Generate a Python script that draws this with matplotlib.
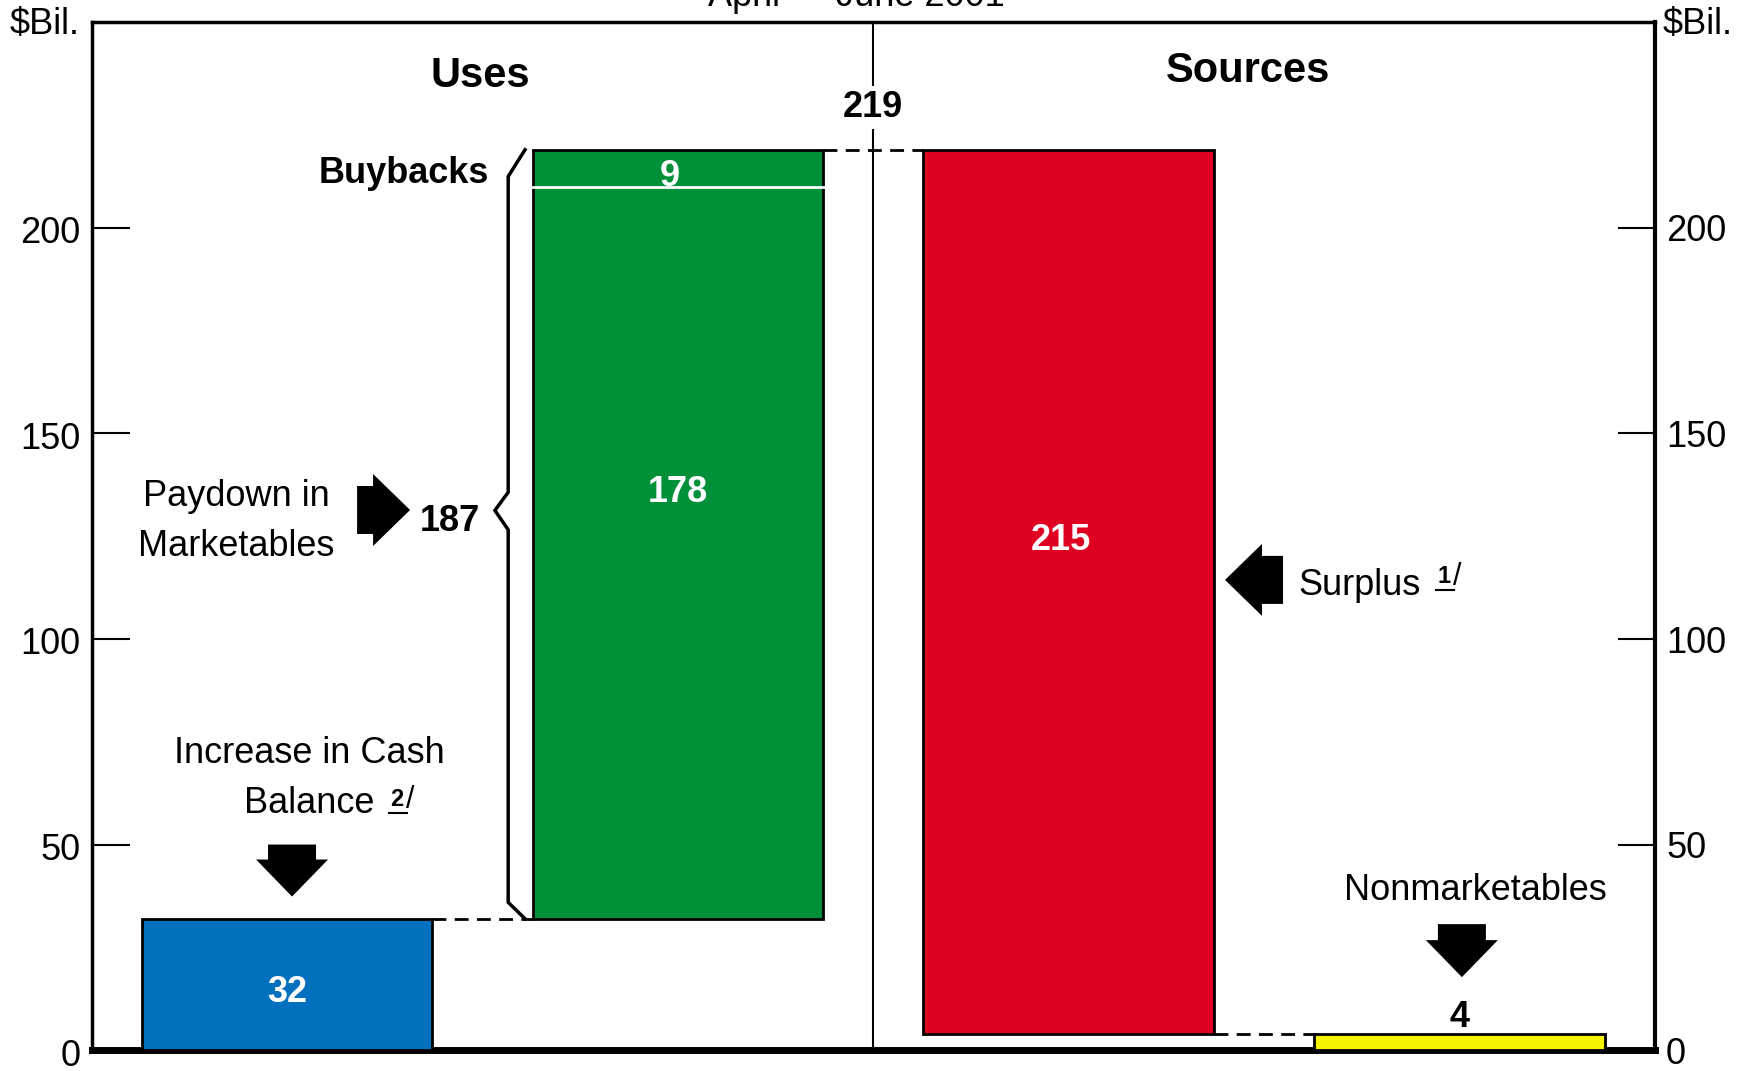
import matplotlib.pyplot as plt
import matplotlib.transforms as mtransforms
from matplotlib.patches import Polygon

plt.rcParams['font.family'] = ['Liberation Sans', 'DejaVu Sans']

# Valores en miles de millones de dolares (abril - junio 2001)
cash_increase = 32
paydown_marketables = 178
buybacks = 9
surplus = 215
nonmarketables = 4

yticks = [0, 50, 100, 150, 200]

total_uses = cash_increase + paydown_marketables + buybacks
total_paydown = paydown_marketables + buybacks

# Colores de las barras
BLUE = '#0070BF'
GREEN = '#009039'
RED = '#E00022'
YELLOW = '#F7F200'

bar_x = [0.5, 1.5, 2.5, 3.5]
bar_w = 0.743
FS = 26


def block_arrow(ax, x, y, direction, shaft_len=16):
    # flecha gruesa, medidas en pixeles, punta en (x, y) en datos
    head_len, head_half, shaft_half = 37, 36, 24
    pts = [(0, 0), (-head_len, head_half), (-head_len, shaft_half),
           (-head_len - shaft_len, shaft_half),
           (-head_len - shaft_len, -shaft_half),
           (-head_len, -shaft_half), (-head_len, -head_half)]
    rot = {'right': 0, 'left': 180, 'down': -90}[direction]
    tr = (mtransforms.Affine2D().rotate_deg(rot)
          + mtransforms.ScaledTranslation(x, y, ax.transData))
    ax.add_patch(Polygon(pts, closed=True, facecolor='black',
                         edgecolor='none', transform=tr, zorder=5))


def footnote(ax, x, y, num):
    # numero subrayado seguido de "/"
    ax.plot([x, x + 0.045], [y, y], color='black', lw=1.5)
    ax.annotate(num, xy=(x, y), xytext=(5.5, 1.5), textcoords='offset points',
                ha='center', va='bottom', fontsize=17, fontweight='bold')
    ax.annotate('/', xy=(x, y), xytext=(15, -1.5), textcoords='offset points',
                ha='center', va='bottom', fontsize=22)


fig = plt.figure(figsize=(17.5, 10.71), dpi=100)
ax = fig.add_axes([0.0523, 0.0193, 0.8934, 0.9599])
ax.set_xlim(0, 4)
ax.set_ylim(0, 250)

# Barras
ax.bar(bar_x[0], cash_increase, bar_w, bottom=0, color=BLUE,
       edgecolor='black', linewidth=2, zorder=3)
ax.bar(bar_x[1], total_paydown, bar_w, bottom=cash_increase, color=GREEN,
       edgecolor='black', linewidth=2, zorder=3)
ax.bar(bar_x[2], surplus, bar_w, bottom=nonmarketables, color=RED,
       edgecolor='black', linewidth=2, zorder=3)
ax.bar(bar_x[3], nonmarketables, bar_w, bottom=0, color=YELLOW,
       edgecolor='black', linewidth=2, zorder=3)

# linea blanca que separa las recompras
split = cash_increase + paydown_marketables
ax.plot([bar_x[1] - bar_w / 2, bar_x[1] + bar_w / 2 + 0.01], [split, split],
        color='white', lw=2, zorder=4)

# lineas punteadas de conexion
dash = dict(color='black', lw=2, linestyle=(0, (5, 3)), zorder=2)
ax.plot([bar_x[0] + bar_w / 2, bar_x[1] - bar_w / 2], [cash_increase] * 2, **dash)
ax.plot([bar_x[1] + bar_w / 2, bar_x[2] - bar_w / 2], [total_uses] * 2, **dash)
ax.plot([bar_x[2] + bar_w / 2, bar_x[3] - bar_w / 2], [nonmarketables] * 2, **dash)

# divisor central
ax.axvline(2.0, color='black', lw=1.5, zorder=1)

# llave de "Paydown in Marketables"
bx, tipx, endx = 1.066, 1.032, 1.109
ax.plot([endx, bx, bx, tipx, bx, bx, endx],
        [total_uses, total_uses - 6.5, 135.7, 131.3, 126.6,
         cash_increase + 4, cash_increase],
        color='black', lw=2.5, solid_joinstyle='miter', zorder=3)

# valores dentro de las barras
white_bold = dict(color='white', fontsize=FS, fontweight='bold',
                  ha='center', va='center', zorder=6)
ax.text(bar_x[0], cash_increase / 2 - 2, str(cash_increase), **white_bold)
ax.text(bar_x[1] - 0.02, split + 2.5, str(buybacks), **white_bold)
ax.text(bar_x[1], 135.6, str(paydown_marketables), **white_bold)
ax.text(bar_x[2] - 0.02, 124.1, str(surplus), **white_bold)
ax.text(bar_x[3], nonmarketables - 0.2, str(nonmarketables), fontsize=FS,
        fontweight='bold', ha='center', va='bottom')

# titulos de cada lado
ax.text(0.995, 236.9, 'Uses', fontsize=30, fontweight='bold',
        ha='center', va='center')
ax.text(2.958, 238.2, 'Sources', fontsize=30, fontweight='bold',
        ha='center', va='center')
ax.text(2.0, 229.3, str(total_uses), fontsize=FS, fontweight='bold',
        ha='center', va='center', zorder=6,
        bbox=dict(facecolor='white', edgecolor='none', pad=3))

# etiquetas y flechas
ax.text(1.017, 213.3, 'Buybacks', fontsize=FS, fontweight='bold',
        ha='right', va='center')
ax.text(0.371, 128.6, 'Paydown in\nMarketables', fontsize=FS,
        ha='center', va='center', multialignment='center', linespacing=1.52)
block_arrow(ax, 0.815, 131.4, 'right', shaft_len=16)
ax.text(0.917, 128.7, str(total_paydown), fontsize=FS, fontweight='bold',
        ha='center', va='center')

ax.text(0.557, 72.1, 'Increase in Cash', fontsize=FS, ha='center', va='center')
ax.text(0.557, 60.0, 'Balance', fontsize=FS, ha='center', va='center')
footnote(ax, 0.761, 57.7, '2')
block_arrow(ax, 0.513, 37.4, 'down', shaft_len=15)

block_arrow(ax, 2.900, 114.4, 'left', shaft_len=21)
ax.text(3.087, 113.1, 'Surplus', fontsize=FS, ha='left', va='center')
footnote(ax, 3.440, 112.0, '1')

ax.text(3.541, 38.8, 'Nonmarketables', fontsize=FS, ha='center', va='center')
block_arrow(ax, 3.506, 17.8, 'down', shaft_len=16)

# ejes
ax.set_xticks([])
ax.set_yticks(yticks)
ax.tick_params(axis='y', direction='in', length=27, width=1.5, pad=8,
               labelsize=FS, right=True, labelright=True)
down = mtransforms.ScaledTranslation(0, -1.3 / 72, fig.dpi_scale_trans)
for t in ax.yaxis.get_major_ticks():
    t.label1.set_transform(t.label1.get_transform() + down)
for side, lw in (('left', 2.5), ('right', 3), ('top', 2.5), ('bottom', 5)):
    ax.spines[side].set_linewidth(lw)

ax.text(-0.0074, 0.998, '$Bil.', transform=ax.transAxes, fontsize=FS,
        ha='right', va='center')
ax.text(1.005, 0.998, '$Bil.', transform=ax.transAxes, fontsize=FS,
        ha='left', va='center')
fig.text(0.4895, 0.9944, 'April \u2014 June 2001', fontsize=FS,
         ha='center', va='baseline')

fig.savefig('out.png', dpi=100)
